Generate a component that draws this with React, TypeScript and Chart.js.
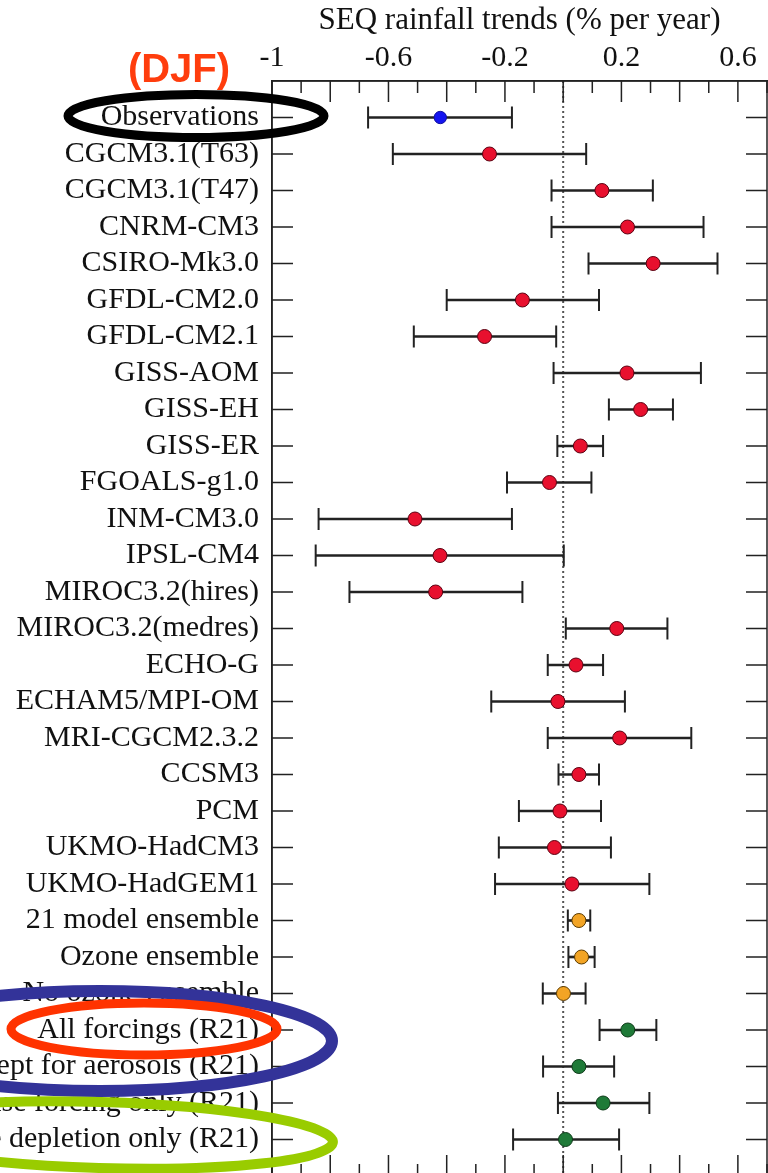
import React, { useEffect, useRef } from "react";
import { Chart, registerables } from "chart.js";

Chart.register(...registerables);

const categories = [
  "Observations",
  "CGCM3.1(T63)",
  "CGCM3.1(T47)",
  "CNRM-CM3",
  "CSIRO-Mk3.0",
  "GFDL-CM2.0",
  "GFDL-CM2.1",
  "GISS-AOM",
  "GISS-EH",
  "GISS-ER",
  "FGOALS-g1.0",
  "INM-CM3.0",
  "IPSL-CM4",
  "MIROC3.2(hires)",
  "MIROC3.2(medres)",
  "ECHO-G",
  "ECHAM5/MPI-OM",
  "MRI-CGCM2.3.2",
  "CCSM3",
  "PCM",
  "UKMO-HadCM3",
  "UKMO-HadGEM1",
  "21 model ensemble",
  "Ozone ensemble",
  "No ozone ensemble",
  "All forcings (R21)",
  "All forcings except for aerosols (R21)",
  "Greenhouse forcing only (R21)",
  "Ozone depletion only (R21)",
];

const trend = [
  -0.422, -0.253, 0.133, 0.221, 0.309, -0.14, -0.27, 0.219, 0.266, 0.059,
  -0.047, -0.509, -0.423, -0.438, 0.184, 0.044, -0.018, 0.194, 0.054, -0.011,
  -0.03, 0.03, 0.054, 0.063, 0.001, 0.222, 0.054, 0.137, 0.008,
];

const lower = [
  -0.67, -0.585, -0.04, -0.04, 0.087, -0.4, -0.513, -0.033, 0.157, -0.02,
  -0.193, -0.84, -0.85, -0.734, 0.009, -0.053, -0.247, -0.053, -0.016, -0.152,
  -0.221, -0.234, 0.016, 0.018, -0.07, 0.125, -0.069, -0.018, -0.172,
];

const upper = [
  -0.176, 0.079, 0.308, 0.482, 0.53, 0.123, -0.024, 0.473, 0.377, 0.137,
  0.097, -0.176, 0.002, -0.14, 0.358, 0.137, 0.212, 0.44, 0.123, 0.13,
  0.164, 0.296, 0.093, 0.108, 0.077, 0.32, 0.175, 0.296, 0.192,
];

const groups = [
  "obs",
  "model", "model", "model", "model", "model", "model", "model", "model",
  "model", "model", "model", "model", "model", "model", "model", "model",
  "model", "model", "model", "model", "model",
  "ens", "ens", "ens",
  "r21", "r21", "r21", "r21",
];

const xLabelValues = [-1, -0.6, -0.2, 0.2, 0.6];
const xTitle = "SEQ rainfall trends (% per year)";
const panelTag = "(DJF)";

const groupFill: Record<string, string> = {
  obs: "#1414f0",
  model: "#e8102e",
  ens: "#f2a425",
  r21: "#1f7a38",
};
const groupBorder: Record<string, string> = {
  obs: "#1010a0",
  model: "#5a0010",
  ens: "#5a3a00",
  r21: "#0d3a18",
};

const SERIF = "'Liberation Serif', 'Times New Roman', serif";

const framePlugin = {
  id: "frameTicks",
  afterDatasetsDraw(chart: any) {
    const { ctx, chartArea: a, scales } = chart;
    const x = scales.x;
    const y = scales.y;
    ctx.save();
    ctx.strokeStyle = "#222";
    ctx.lineWidth = 1.5;
    ctx.strokeRect(a.left, a.top, a.right - a.left, a.bottom - a.top);
    ctx.beginPath();
    x.ticks.forEach((t: any) => {
      const px = x.getPixelForValue(t.value);
      const k = Math.round(t.value * 10);
      const len = Math.abs(k % 2) === 0 ? 21 : 12;
      ctx.moveTo(px, a.top);
      ctx.lineTo(px, a.top + len);
      ctx.moveTo(px, a.bottom);
      ctx.lineTo(px, a.bottom - len);
    });
    y.ticks.forEach((t: any) => {
      const py = y.getPixelForValue(t.value);
      ctx.moveTo(a.left, py);
      ctx.lineTo(a.left + 21, py);
      ctx.moveTo(a.right, py);
      ctx.lineTo(a.right - 21, py);
    });
    ctx.stroke();
    ctx.restore();
  },
};

const annotationPlugin = {
  id: "handAnnotations",
  afterDraw(chart: any) {
    const { ctx } = chart;
    const ell = (cx: number, cy: number, rx: number, ry: number, rot: number, lw: number, col: string) => {
      ctx.beginPath();
      ctx.ellipse(cx, cy, rx, ry, rot, 0, Math.PI * 2);
      ctx.lineWidth = lw;
      ctx.strokeStyle = col;
      ctx.stroke();
    };
    ctx.save();
    ell(100, 1041, 232, 50, 0, 12, "#333399");
    ell(100, 1135, 233, 33, 0.03, 10, "#99cc00");
    ell(144, 1029, 133, 26, 0, 9, "#ff3300");
    ell(196, 116, 128, 21.5, 0, 9, "#000000");
    ctx.font = "bold 40px 'Liberation Sans', Arial, sans-serif";
    ctx.fillStyle = "#ff3d0d";
    ctx.textAlign = "center";
    ctx.textBaseline = "alphabetic";
    ctx.fillText(panelTag, 179, 82);
    ctx.restore();
  },
};

const zeroPadding = (s: any) => {
  s.paddingLeft = 0;
  s.paddingRight = 0;
  s.paddingTop = 0;
  s.paddingBottom = 0;
};

export default function App() {
  const ref = useRef<HTMLCanvasElement | null>(null);

  useEffect(() => {
    document.body.style.margin = "0";
    const canvas = ref.current;
    if (!canvas) return;
    const rows = categories.map((_, i) => i + 1);
    const chart = new Chart(canvas, {
      type: "bar",
      data: {
        datasets: [
          {
            type: "line",
            data: [
              { x: 0, y: 0 },
              { x: 0, y: categories.length + 1 },
            ],
            borderColor: "#555",
            borderWidth: 2,
            borderDash: [2, 3],
            pointRadius: 0,
            order: 4,
          } as any,
          {
            type: "bar",
            data: rows.map((r, i) => ({ x: [lower[i], upper[i]], y: r })),
            backgroundColor: "#222",
            barThickness: 2,
            order: 3,
          } as any,
          {
            type: "scatter",
            data: rows.map((r, i) => ({ x: lower[i], y: r })),
            pointStyle: "line",
            pointRadius: 11,
            pointRotation: 90,
            pointBorderColor: "#222",
            pointBorderWidth: 2,
            order: 2,
          } as any,
          {
            type: "scatter",
            data: rows.map((r, i) => ({ x: upper[i], y: r })),
            pointStyle: "line",
            pointRadius: 11,
            pointRotation: 90,
            pointBorderColor: "#222",
            pointBorderWidth: 2,
            order: 2,
          } as any,
          {
            type: "scatter",
            data: rows.map((r, i) => ({ x: trend[i], y: r })),
            pointRadius: groups.map((g) => (g === "obs" ? 6.2 : 7)),
            pointBackgroundColor: groups.map((g) => groupFill[g]),
            pointBorderColor: groups.map((g) => groupBorder[g]),
            pointBorderWidth: 1,
            order: 1,
          } as any,
        ],
      },
      options: {
        animation: false,
        responsive: false,
        indexAxis: "y",
        events: [],
        layout: { autoPadding: false, padding: { left: 0, right: 1, top: 0, bottom: 1 } },
        plugins: {
          legend: { display: false },
          tooltip: { enabled: false },
          title: { display: false },
        },
        scales: {
          x: {
            type: "linear",
            position: "top",
            min: -1,
            max: 0.7,
            offset: false,
            ticks: {
              stepSize: 0.1,
              autoSkip: false,
              maxRotation: 0,
              padding: 5,
              color: "#111",
              font: { family: SERIF, size: 30 },
              callback: (v: any) => {
                const n = Number(v);
                return xLabelValues.some((l) => Math.abs(l - n) < 1e-6) ? String(Math.round(n * 10) / 10) : "";
              },
            },
            grid: { display: true, drawOnChartArea: false, drawTicks: false, offset: false },
            border: { display: true, color: "#222", width: 1.5 },
            title: {
              display: true,
              text: xTitle,
              color: "#111",
              font: { family: SERIF, size: 31 },
              padding: { top: 2, bottom: 0 },
            },
            afterFit: (s: any) => {
              s.height = 81;
              zeroPadding(s);
            },
          },
          y: {
            type: "linear",
            min: 0,
            max: categories.length + 1,
            reverse: true,
            offset: false,
            afterBuildTicks: (s: any) => {
              s.ticks = rows.map((r) => ({ value: r }));
            },
            ticks: {
              autoSkip: false,
              padding: 13,
              color: "#111",
              font: { family: SERIF, size: 30 },
              callback: (v: any) => categories[Math.round(Number(v)) - 1] ?? "",
            },
            grid: { display: true, drawOnChartArea: false, drawTicks: false, offset: false },
            border: { display: true, color: "#222", width: 1.5 },
            afterFit: (s: any) => {
              s.width = 272;
              zeroPadding(s);
            },
          },
        },
      } as any,
      plugins: [framePlugin, annotationPlugin],
    });
    return () => chart.destroy();
  }, []);

  return (
    <div style={{ width: 768, height: 1173, overflow: "hidden", position: "relative", background: "#fff" }}>
      <canvas ref={ref} width={768} height={1177} style={{ display: "block" }} />
    </div>
  );
}
